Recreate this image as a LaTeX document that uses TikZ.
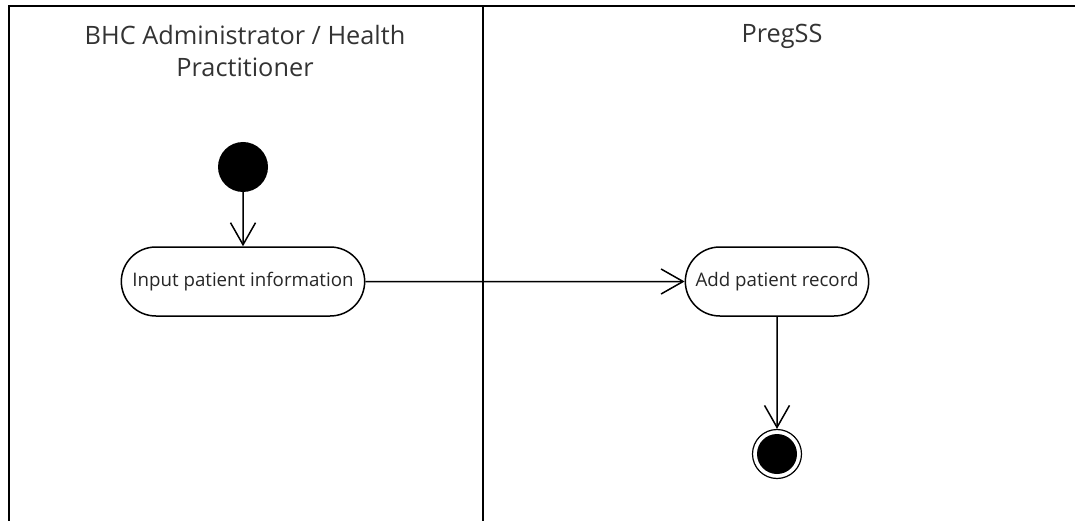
\documentclass[tikz,border=0pt]{standalone}
\usepackage{fontspec}
\setmainfont{Open Sans}
\usetikzlibrary{positioning, arrows.meta, shapes.misc}

\begin{document}
\begin{tikzpicture}[x=1pt, y=-1pt,
  action/.style={draw, line width=1.5pt, rounded rectangle, minimum height=69pt, text=black!85, font=\fontsize{18.7}{22}\selectfont},
  flow/.style={line width=1.5pt, -{Straight Barb[length=22pt, width=25pt, line width=1.5pt]}},
  lanetitle/.style={align=center, text=black!80, font=\fontsize{25.3}{32}\selectfont}]
\useasboundingbox (0,0) rectangle (1075,521);
\draw[line width=1.8pt] (9,521) -- (9,6) -- (1075,6); % swimlane frame
\draw[line width=1.8pt] (483,6) -- (483,521); % lane separator
\node[lanetitle] (actorlane) at (245,51) {BHC Administrator / Health\\Practitioner};
\node[lanetitle, anchor=base] (systemlane) at (782,43) {PregSS};
\node[circle, fill=black, minimum size=50pt, inner sep=0pt] (start) at (243,167) {}; % initial node
\node[action, minimum width=250pt] (input) at (243,281.5) {Input patient information};
\node[action, minimum width=190pt] (add) at (777,281.5) {Add patient record};
\node[circle, draw, line width=1.2pt, minimum size=49pt, inner sep=0pt] (final) at (777,454) {}; % final node
\node[circle, fill=black, minimum size=40pt, inner sep=0pt] (finaldot) at (final) {};
\draw[flow] (start) -- (input);
\draw[flow] (input) -- (add);
\draw[flow] (add) -- (final);
\end{tikzpicture}
\end{document}
